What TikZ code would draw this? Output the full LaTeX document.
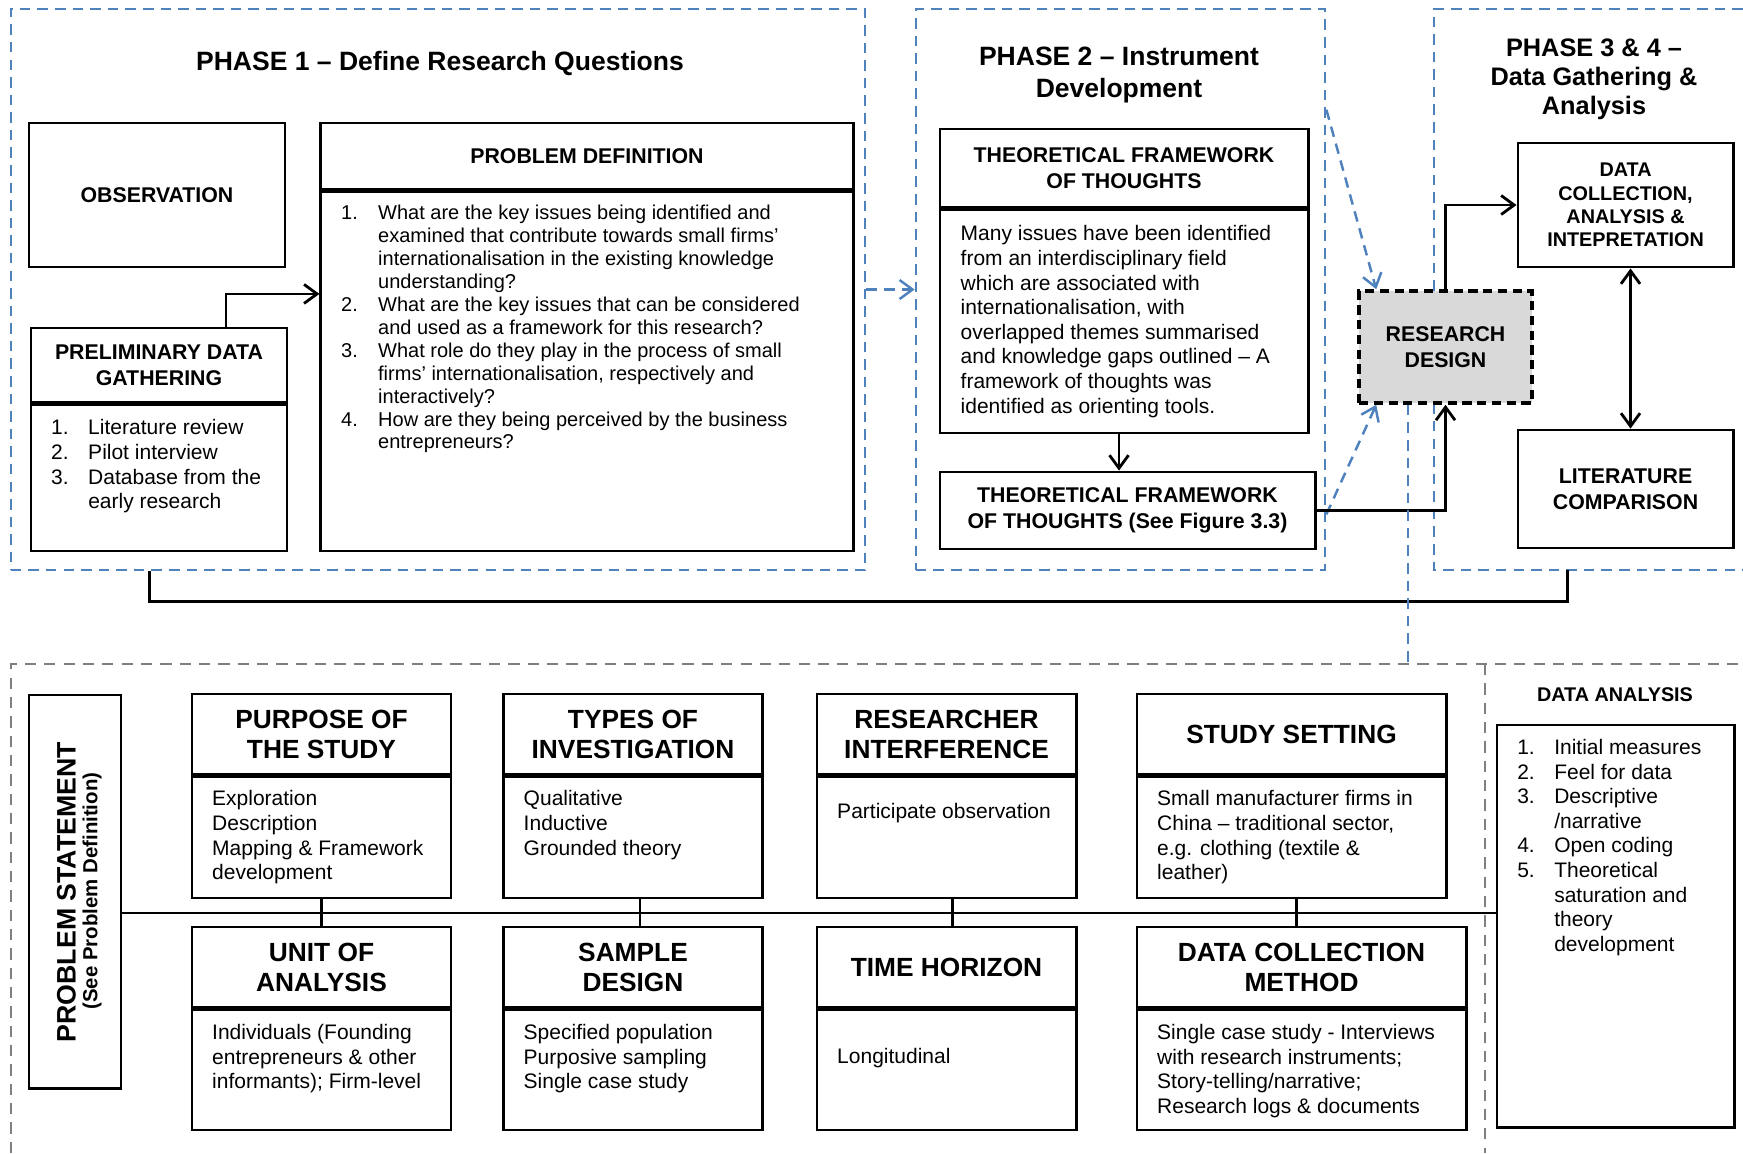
\documentclass[tikz,border=0pt]{standalone}
\usepackage{fontspec}
\setmainfont{Liberation Sans}
\usetikzlibrary{arrows.meta}

\definecolor{phaseblue}{HTML}{4F81BD}
\definecolor{framegray}{HTML}{7F7F7F}
\definecolor{designgray}{HTML}{D9D9D9}

\newcommand\bodyfont{\fontsize{5.97pt}{7pt}\selectfont}
\newcommand\questfont{\fontsize{5.69pt}{6.52pt}\selectfont}
\newcommand\headfont{\bfseries\fontsize{6.06pt}{7.28pt}\selectfont}
\newcommand\smallheadfont{\bfseries\fontsize{5.63pt}{6.63pt}\selectfont}
\newcommand\bigheadfont{\bfseries\fontsize{7.48pt}{8.54pt}\selectfont}
\newcommand\phasefont{\bfseries\fontsize{7.54pt}{9.1pt}\selectfont}
\newcommand\phasethreefont{\bfseries\fontsize{7.2pt}{8.25pt}\selectfont}
\newcommand\psfont{\bfseries\fontsize{7.6pt}{8.5pt}\selectfont}
\newcommand\pssubfont{\bfseries\fontsize{5.8pt}{7pt}\selectfont}

\newcommand\lnum[1]{\makebox[0.37cm][l]{#1}}
\newcommand\lcont{\hspace*{0.37cm}}

\begin{document}
\begin{tikzpicture}[x=0.01cm, y=-0.01cm,
    >={Straight Barb[length=1.3mm,width=1.9mm]},
    box/.style={draw, line width=0.8pt, inner sep=0pt, align=center},
    frame/.style={draw=phaseblue, line width=0.7pt, dash pattern=on 3pt off 2pt, inner sep=0pt},
    bodytext/.style={anchor=north west, inner sep=0pt, align=left, font=\bodyfont},
    bluedash/.style={phaseblue, line width=0.7pt, dash pattern=on 3pt off 2pt},
    graydash/.style={framegray, line width=0.7pt, dash pattern=on 3.2pt off 2.3pt},
    link/.style={line width=0.8pt}]
  \useasboundingbox (0,0) rectangle (1743,1153);

  % phase frames
  \node[frame, minimum width=8.54cm, minimum height=5.61cm] (phaseone) at (438,289.5) {};
  \node[frame, minimum width=4.09cm, minimum height=5.61cm] (phasetwo) at (1120.5,289.5) {};
  \coordinate (p3sw) at (1434,570);
  \draw[bluedash] (1743,9) -| (p3sw) -- (1743,570);

  \node[font=\phasefont, align=center] (phaseone-title) at (440,63) {PHASE 1 -- Define Research Questions};
  \node[font=\phasefont, align=center] (phasetwo-title) at (1119,75) {PHASE 2 -- Instrument\\Development};
  \node[font=\phasethreefont, align=center] (phasethree-title) at (1594,79) {PHASE 3 \& 4 --\\Data Gathering \&\\Analysis};

  % phase 1
  \node[box, minimum width=2.56cm, minimum height=1.44cm, font=\headfont] (observation) at (157,195) {OBSERVATION};
  \node[box, minimum width=2.56cm, minimum height=0.74cm, font=\headfont] (prelim-head) at (159,365) {PRELIMINARY DATA\\GATHERING};
  \node[box, minimum width=2.56cm, minimum height=1.46cm, anchor=north] (prelim-body) at (prelim-head.south) {};
  \node[box, minimum width=5.32cm, minimum height=0.66cm, font=\headfont] (problem-head) at (587,156) {PROBLEM DEFINITION};
  \node[box, minimum width=5.32cm, minimum height=3.59cm, anchor=north] (problem-body) at (problem-head.south) {};

  \node[bodytext] (prelim-text) at ([xshift=0.21cm,yshift=-0.155cm]prelim-body.north west)
    {\lnum{1.}Literature review\\\lnum{2.}Pilot interview\\\lnum{3.}Database from the\\\lcont early research};
  \node[bodytext, font=\questfont] (problem-text) at ([xshift=0.21cm,yshift=-0.14cm]problem-body.north west)
    {\lnum{1.}What are the key issues being identified and\\
     \lcont examined that contribute towards small firms'\\
     \lcont internationalisation in the existing knowledge\\
     \lcont understanding?\\
     \lnum{2.}What are the key issues that can be considered\\
     \lcont and used as a framework for this research?\\
     \lnum{3.}What role do they play in the process of small\\
     \lcont firms' internationalisation, respectively and\\
     \lcont interactively?\\
     \lnum{4.}How are they being perceived by the business\\
     \lcont entrepreneurs?};

  \draw[link, ->] ([xshift=0.67cm]prelim-head.north) |- ([yshift=0.775cm]problem-body.west);
  \draw[bluedash, ->] (phaseone) -- (phasetwo);

  % phase 2
  \node[box, minimum width=3.68cm, minimum height=0.78cm, font=\headfont] (tft-head) at (1124,168) {THEORETICAL FRAMEWORK\\OF THOUGHTS};
  \node[box, minimum width=3.68cm, minimum height=2.23cm, anchor=north] (tft-body) at (tft-head.south) {};
  \node[bodytext] (tft-text) at ([xshift=0.215cm,yshift=-0.165cm]tft-body.north west)
    {Many issues have been identified\\from an interdisciplinary field\\which are associated with\\internationalisation, with\\overlapped themes summarised\\and knowledge gaps outlined -- A\\framework of thoughts was\\identified as orienting tools.};
  \node[box, minimum width=3.75cm, minimum height=0.77cm, font=\headfont] (tft-see) at (1127.5,510.5) {THEORETICAL FRAMEWORK\\OF THOUGHTS (See Figure 3.3)};
  \draw[link, ->] ([xshift=-0.05cm]tft-body.south) -- ([xshift=-0.05cm]tft-body.south |- tft-see.north);

  % research design
  \node[draw, fill=designgray, line width=1pt, dash pattern=on 2.6pt off 1.6pt, minimum width=1.73cm, minimum height=1.12cm, inner sep=0pt, align=center, font=\headfont] (design) at (1445.5,347) {RESEARCH\\DESIGN};
  \draw[bluedash, ->] ([yshift=-1.02cm]phasetwo.north east) -- ([xshift=0.19cm]design.north west);
  \draw[bluedash, ->] ([yshift=0.57cm]phasetwo.south east) -- ([xshift=0.19cm]design.south west);
  \draw[link, ->] (tft-see.east) -| (design.south);

  % phase 3 & 4
  \node[box, minimum width=2.15cm, minimum height=1.24cm, font=\smallheadfont] (collect) at (1625.5,205) {DATA\\COLLECTION,\\ANALYSIS \&\\INTEPRETATION};
  \node[box, minimum width=2.15cm, minimum height=1.18cm, font=\headfont] (litcomp) at (1625.5,489) {LITERATURE\\COMPARISON};
  \draw[link, ->] (design.north) |- (collect.west);
  \draw[link, <->] ([xshift=0.05cm]collect.south) -- ([xshift=0.05cm]litcomp.north);

  \draw[link] ([xshift=1.4cm]phaseone.south west) -- ++(0,30) -| ([xshift=1.33cm]p3sw);

  % research design framework
  \coordinate (btl) at (11,664);
  \draw[graydash] (11,1153) -- (btl) -- (1743,664);
  \draw[graydash] (1485,664) -- (1485,1153);
  \draw[bluedash] ([xshift=-0.375cm]design.south) -- ([xshift=-0.375cm]design.south |- btl);

  \node[box, minimum width=0.92cm, minimum height=3.93cm] (statement) at (75,891.5) {};
  \node[rotate=90, inner sep=0pt, font=\psfont] (statement-title) at (66.5,892) {PROBLEM STATEMENT};
  \node[rotate=90, inner sep=0pt, font=\pssubfont] (statement-sub) at (92,891) {(See Problem Definition)};

  \foreach \id/\cx/\bw/\ttl in {
      purpose/321.5/2.59/{PURPOSE OF\\THE STUDY},
      types/633/2.59/{TYPES OF\\INVESTIGATION},
      interfere/946.5/2.59/{RESEARCHER\\INTERFERENCE},
      setting/1291.5/3.09/{STUDY SETTING}}{
    \node[box, font=\bigheadfont, minimum width=\bw cm, minimum height=0.8cm] (\id-head) at (\cx,734) {\ttl};
    \node[box, minimum width=\bw cm, minimum height=1.21cm, anchor=north] (\id-body) at (\id-head.south) {};
  }
  \foreach \id/\cx/\bw/\ttl in {
      unit/321.5/2.59/{UNIT OF\\ANALYSIS},
      sample/633/2.59/{SAMPLE\\DESIGN},
      horizon/946.5/2.59/{TIME HORIZON},
      method/1301.5/3.29/{DATA COLLECTION\\METHOD}}{
    \node[box, font=\bigheadfont, minimum width=\bw cm, minimum height=0.8cm] (\id-head) at (\cx,967) {\ttl};
    \node[box, minimum width=\bw cm, minimum height=1.2cm, anchor=north] (\id-body) at (\id-head.south) {};
  }

  \node[bodytext] (purpose-text) at ([xshift=0.21cm,yshift=-0.145cm]purpose-body.north west) {Exploration\\Description\\Mapping \& Framework\\development};
  \node[bodytext] (types-text) at ([xshift=0.21cm,yshift=-0.145cm]types-body.north west) {Qualitative\\Inductive\\Grounded theory};
  \node[bodytext] (interfere-text) at ([xshift=0.21cm,yshift=-0.275cm]interfere-body.north west) {Participate observation};
  \node[bodytext] (setting-text) at ([xshift=0.21cm,yshift=-0.145cm]setting-body.north west) {Small manufacturer firms in\\China -- traditional sector,\\e.g. clothing (textile \&\\leather)};
  \node[bodytext] (unit-text) at ([xshift=0.21cm,yshift=-0.15cm]unit-body.north west) {Individuals (Founding\\entrepreneurs \& other\\informants); Firm-level};
  \node[bodytext] (sample-text) at ([xshift=0.21cm,yshift=-0.15cm]sample-body.north west) {Specified population\\Purposive sampling\\Single case study};
  \node[bodytext] (horizon-text) at ([xshift=0.21cm,yshift=-0.395cm]horizon-body.north west) {Longitudinal};
  \node[bodytext] (method-text) at ([xshift=0.21cm,yshift=-0.15cm]method-body.north west) {Single case study - Interviews\\with research instruments;\\Story-telling/narrative;\\Research logs \& documents};

  \foreach \upper/\lower/\dx in {purpose/unit/0, types/sample/0.07, interfere/horizon/0.06, setting/method/0.05}
    \draw[link] ([xshift=\dx cm]\upper-body.south) -- ([xshift=\dx cm]\upper-body.south |- \lower-head.north);

  % data analysis
  \node[font=\smallheadfont] (analysis-title) at (1615,695) {DATA ANALYSIS};
  \node[box, minimum width=2.37cm, minimum height=4.02cm] (analysis) at (1615.5,926) {};
  \node[bodytext] (analysis-text) at ([xshift=0.21cm,yshift=-0.15cm]analysis.north west)
    {\lnum{1.}Initial measures\\\lnum{2.}Feel for data\\\lnum{3.}Descriptive\\\lcont /narrative\\\lnum{4.}Open coding\\\lnum{5.}Theoretical\\\lcont saturation and\\\lcont theory\\\lcont development};

  \draw[link] ([yshift=-0.215cm]statement.east) -- ([yshift=-0.215cm]statement.east -| analysis.west);
\end{tikzpicture}
\end{document}
